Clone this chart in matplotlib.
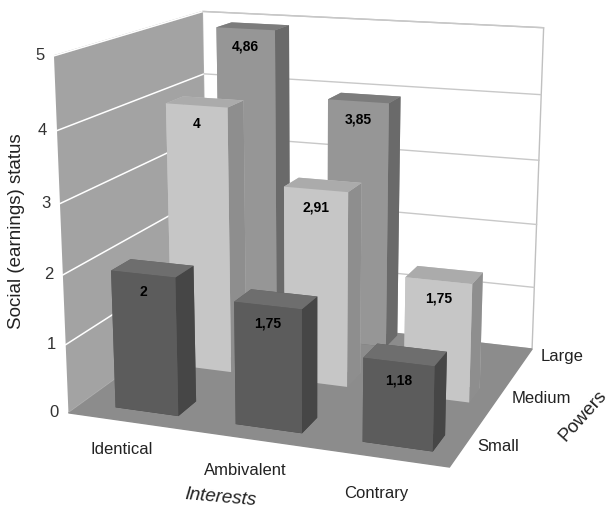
import numpy as np
import matplotlib
matplotlib.use('Agg')
import matplotlib.pyplot as plt
from mpl_toolkits.mplot3d import proj3d

plt.rcParams['font.family'] = ['Liberation Sans', 'DejaVu Sans']

interests = ['Identical', 'Ambivalent', 'Contrary']
powers = ['Small', 'Medium', 'Large']
small_vals = [2, 1.75, 1.18]
medium_vals = [4, 2.91, 1.75]
large_vals = [4.86, 3.85, np.nan]
z_ticks = [0, 1, 2, 3, 4, 5]

# face colours per row: bottom, top, front, back, left, right
row_faces = {
    0: ['#444444', '#6e6e6e', '#5c5c5c', '#5c5c5c', '#5c5c5c', '#464646'],
    1: ['#909090', '#ababab', '#c6c6c6', '#c6c6c6', '#c6c6c6', '#8e8e8e'],
    2: ['#6a6a6a', '#7c7c7c', '#969696', '#969696', '#969696', '#6a6a6a'],
}

W, D = 0.53, 0.32
YMIN, YMAX = -0.22, 2.36

fig = plt.figure(figsize=(6.06, 5.13), dpi=100)
ax = fig.add_axes([0.005, 0.068, 1, 1], projection='3d')
ax.set_proj_type('persp', focal_length=0.58)
ax.view_init(elev=14.5, azim=-70)
ax.set_box_aspect((1.04, 0.92, 0.95), zoom=1.17)

xs, ys, hs, cols = [], [], [], []
for row, vals in enumerate([small_vals, medium_vals, large_vals]):
    for i, v in enumerate(vals):
        if np.isnan(v):
            continue
        xs.append(i + 0.55 - W / 2)
        ys.append(row)
        hs.append(v)
        cols.extend(row_faces[row])

ax.bar3d(xs, ys, np.zeros(len(xs)), W, D, hs, color=cols, shade=False,
         edgecolor='none')

ax.set_xlim(0, 3)
ax.set_ylim(YMIN, YMAX)
ax.set_zlim(0, 5)

# panes
ax.xaxis.set_pane_color('#a3a3a3')
ax.yaxis.set_pane_color('white')
ax.zaxis.set_pane_color('#8c8c8c')
ax.xaxis.pane.set_edgecolor('#b0b0b0')
ax.yaxis.pane.set_edgecolor('#c0c0c0')
ax.zaxis.pane.set_edgecolor('#8c8c8c')
ax.grid(False)
for axis in (ax.xaxis, ax.yaxis, ax.zaxis):
    axis.line.set_color((0, 0, 0, 0))
ax.set_xticks([])
ax.set_yticks([])
ax.set_zticks([])

# wall grid lines
for k in z_ticks[1:]:
    ax.plot([0, 0], [YMIN, YMAX], [k, k], color='white', lw=1.1, zorder=1)
    ax.plot([0, 3], [YMAX, YMAX], [k, k], color='#c8c8c8', lw=1.0, zorder=1)

M = ax.get_proj()


def put(x, y, z, s, dx=0, dy=0, **kw):
    px, py, _ = proj3d.proj_transform(x, y, z, M)
    ax.annotate(s, (px, py), xytext=(dx, dy), textcoords='offset points',
                zorder=100, annotation_clip=False, **kw)


# data labels
for row, vals in enumerate([small_vals, medium_vals, large_vals]):
    for i, v in enumerate(vals):
        if np.isnan(v):
            continue
        put(i + 0.55, row, v, f"{v:g}".replace('.', ','), 0, -13,
            ha='center', va='center', fontsize=10, fontweight='bold')

# z tick labels
for k in z_ticks:
    put(0, YMIN, k, str(k), -7, 0, ha='right', va='center', fontsize=12,
        color='#333333')

# x tick labels (staggered like the original)
x_label_dy = [-20, -23, -26]
for i, name in enumerate(interests):
    put(i + 0.5, YMIN, 0, name, -4, x_label_dy[i], ha='center', va='center',
        fontsize=12, color='#222222')

# y tick labels
for j, name in enumerate(powers):
    put(3, j + 0.16, 0, name, 10, 0, ha='left', va='center', fontsize=12,
        color='#222222')

fig.text(0.027, 0.55, 'Social (earnings) status', rotation=90, ha='center',
         va='center', fontsize=13.5, color='#222222')
fig.text(0.363, 0.029, 'Interests', rotation=-5, ha='center', va='center',
         fontsize=13.5, color='#222222', style='italic')
fig.text(0.962, 0.19, 'Powers', rotation=48, ha='center', va='center',
         fontsize=13.5, color='#222222')

fig.savefig('out.png', dpi=100)
